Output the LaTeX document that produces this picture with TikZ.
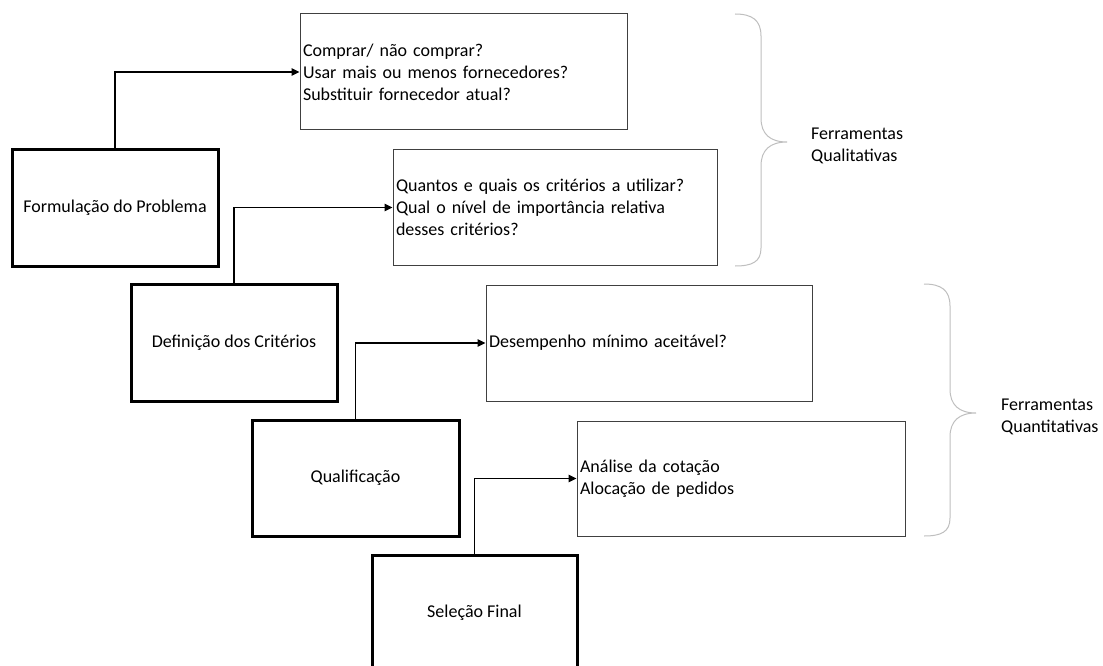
\documentclass[tikz,border=0pt]{standalone}
\usepackage{fontspec}
\setmainfont{Carlito}
\usetikzlibrary{arrows.meta}
\definecolor{boxgray}{HTML}{404040}
\definecolor{bracegray}{HTML}{BFBFBF}
\begin{document}
\begin{tikzpicture}[x=1pt,y=-1pt,
  every node/.style={font=\fontsize{18}{22}\selectfont},
  stagebox/.style={draw=black,line width=3pt,rectangle,align=center,inner sep=0pt},
  qbox/.style={draw=boxgray,line width=1pt,rectangle,align=left,inner xsep=3pt,inner ysep=0pt},
  conn/.style={draw=black,line width=1.2pt,-{Triangle[length=8pt,width=7.5pt]}},
  bracestyle/.style={draw=bracegray,line width=1pt},
  bracelabel/.style={anchor=west,align=left,inner sep=0pt}]
\useasboundingbox (0,0) rectangle (1103,666);
\fill[white] (0,0) rectangle (1103,666);
\clip (0,0) rectangle (1103,666);

% stage boxes
\node[stagebox,minimum width=206pt,minimum height=116pt] (f) at (115,208) {Formulação do Problema};
\node[stagebox,minimum width=206pt,minimum height=117pt] (d) at (234,342.5) {Definição dos Critérios};
\node[stagebox,minimum width=207pt,minimum height=116pt] (q) at (355.5,478) {Qualificação};
\node[stagebox,minimum width=205pt,minimum height=116pt] (s) at (474.5,613) {Seleção Final};

% question boxes
\node[qbox,text width=321pt,minimum height=116pt] (b1) at (463.5,72) {Comprar/ não comprar?\\Usar mais ou menos fornecedores?\\Substituir fornecedor atual?};
\node[qbox,text width=318pt,minimum height=115pt] (b2) at (555,207.5) {Quantos e quais os critérios a utilizar?\\Qual o nível de importância relativa\\desses critérios?};
\node[qbox,text width=320pt,minimum height=116pt] (b3) at (649,343) {Desempenho mínimo aceitável?};
\node[qbox,text width=322pt,minimum height=115pt] (b4) at (741,478.5) {Análise da cotação\\Alocação de pedidos};

% connectors
\draw[conn] (f.north) |- (b1.west);
\draw[conn] (d.north) |- (b2.west);
\draw[conn] (q.north) |- (b3.west);
\draw[conn] (s.north) |- (b4.west);

% braces
\draw[bracestyle] (735,14) .. controls (752,14) and (761,20) .. (761,36) -- (761,118) .. controls (761,134) and (770,142) .. (787,142) .. controls (770,142) and (761,150) .. (761,166) -- (761,248) .. controls (761,262) and (752,266) .. (735,266);
\draw[bracestyle] (924,284) .. controls (941,284) and (950,290) .. (950,306) -- (950,389) .. controls (950,405) and (959,413) .. (976,413) .. controls (959,413) and (950,421) .. (950,437) -- (950,518) .. controls (950,532) and (941,536) .. (924,536);

% brace labels
\node[bracelabel] (l1) at (811,146) {Ferramentas\\Qualitativas};
\node[bracelabel] (l2) at (1001,416.5) {Ferramentas\\Quantitativas};
\end{tikzpicture}
\end{document}
